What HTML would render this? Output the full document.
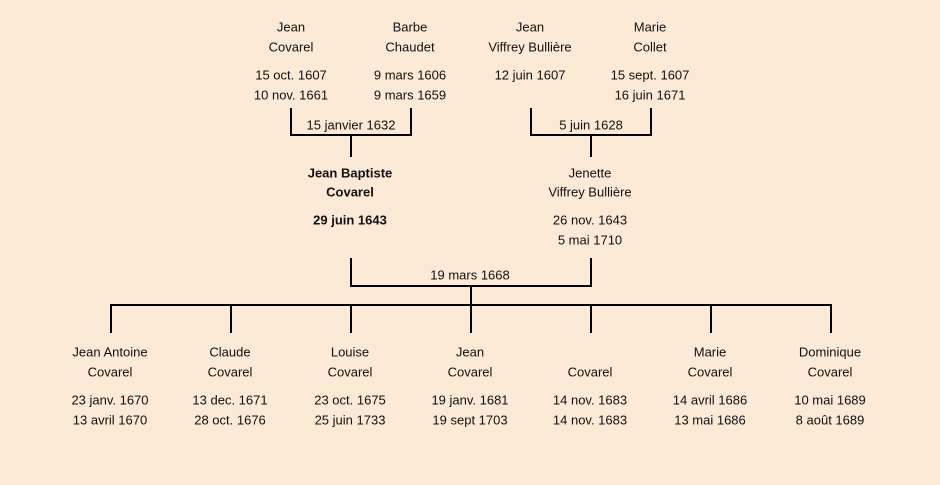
<!DOCTYPE html>
<html><head><meta charset="utf-8"><style>
html,body{margin:0;padding:0;background:#fce9d6;}
svg{display:block}
text{font-family:"Liberation Sans","DejaVu Sans",sans-serif;font-size:13px;fill:#111;text-anchor:middle;dominant-baseline:central}
.b{font-weight:bold}
</style></head><body>
<svg width="940" height="485" viewBox="0 0 940 485">
<rect width="940" height="485" fill="#fce9d6"/>
<g stroke="#000" stroke-width="2" fill="none">
<path d="M291 108V135H411V108M351 135V157"/>
<path d="M531 108V135H651V108M591 135V157"/>
<path d="M351 258V286H591V258M471 286V305"/>
<path d="M110 305H832M111 305V333M231 305V333M351 305V333M471 305V333M591 305V333M711 305V333M831 305V333"/>
</g>
<text x="291" y="27">Jean</text><text x="291" y="47">Covarel</text>
<text x="291" y="75">15 oct. 1607</text><text x="291" y="95">10 nov. 1661</text>
<text x="410" y="27">Barbe</text><text x="410" y="47">Chaudet</text>
<text x="410" y="75">9 mars 1606</text><text x="410" y="95">9 mars 1659</text>
<text x="530" y="27">Jean</text><text x="530" y="47">Viffrey Bullière</text>
<text x="530" y="75">12 juin 1607</text>
<text x="650" y="27">Marie</text><text x="650" y="47">Collet</text>
<text x="650" y="75">15 sept. 1607</text><text x="650" y="95">16 juin 1671</text>
<text x="351" y="125">15 janvier 1632</text>
<text x="591" y="125">5 juin 1628</text>
<text class="b" x="350" y="173">Jean Baptiste</text><text class="b" x="350" y="192">Covarel</text>
<text class="b" x="350" y="220">29 juin 1643</text>
<text x="590" y="173">Jenette</text><text x="590" y="192">Viffrey Bullière</text>
<text x="590" y="220">26 nov. 1643</text><text x="590" y="240">5 mai 1710</text>
<text x="470" y="275">19 mars 1668</text>
<text x="110" y="352">Jean Antoine</text><text x="110" y="372">Covarel</text>
<text x="110" y="400">23 janv. 1670</text><text x="110" y="420">13 avril 1670</text>
<text x="230" y="352">Claude</text><text x="230" y="372">Covarel</text>
<text x="230" y="400">13 dec. 1671</text><text x="230" y="420">28 oct. 1676</text>
<text x="350" y="352">Louise</text><text x="350" y="372">Covarel</text>
<text x="350" y="400">23 oct. 1675</text><text x="350" y="420">25 juin 1733</text>
<text x="470" y="352">Jean</text><text x="470" y="372">Covarel</text>
<text x="470" y="400">19 janv. 1681</text><text x="470" y="420">19 sept 1703</text>
<text x="590" y="372">Covarel</text>
<text x="590" y="400">14 nov. 1683</text><text x="590" y="420">14 nov. 1683</text>
<text x="710" y="352">Marie</text><text x="710" y="372">Covarel</text>
<text x="710" y="400">14 avril 1686</text><text x="710" y="420">13 mai 1686</text>
<text x="830" y="352">Dominique</text><text x="830" y="372">Covarel</text>
<text x="830" y="400">10 mai 1689</text><text x="830" y="420">8 août 1689</text>
</svg>
</body></html>
